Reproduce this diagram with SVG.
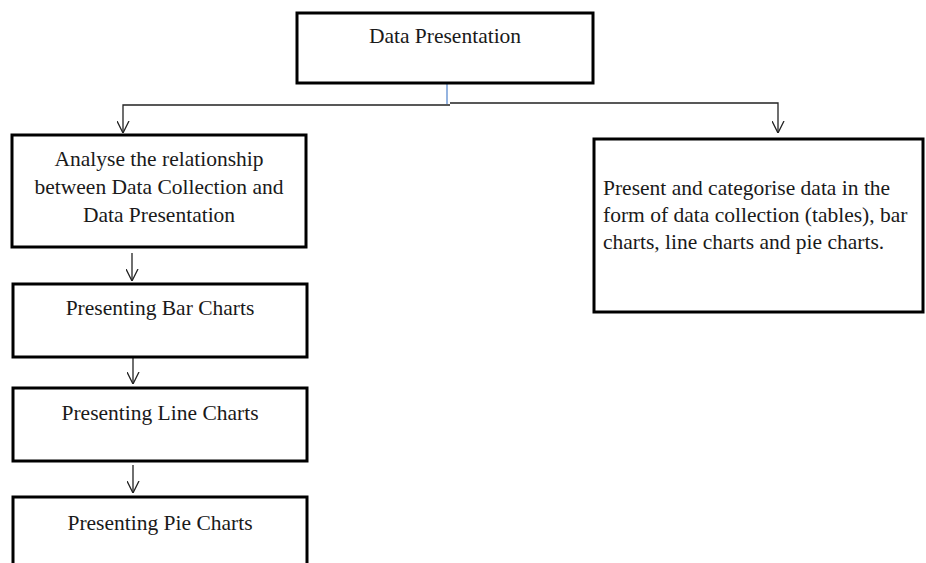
<svg xmlns="http://www.w3.org/2000/svg" width="926" height="563" viewBox="0 0 926 563">
<style>
.box{fill:#fff;stroke:#000;stroke-width:3}
.t{font-family:"Liberation Serif","Times New Roman",serif;font-size:21.5px;fill:#1a1a1a}
.c{text-anchor:middle}
.con{fill:none;stroke:#222;stroke-width:1.3}
</style>
<defs>
<marker id="ah" viewBox="0 0 12 12" refX="12" refY="6" markerWidth="12" markerHeight="13" markerUnits="userSpaceOnUse" orient="auto">
<path d="M0,0 L12,6 L0,12" fill="none" stroke="#222" stroke-width="1.3"/>
</marker>
</defs>
<rect width="926" height="563" fill="#fff"/>
<g id="connectors">
<line x1="447" y1="84" x2="447" y2="104" stroke="#5b8bd0" stroke-width="1.3"/>
<path class="con" d="M450,105 L123,105 L123,133" marker-end="url(#ah)"/>
<path class="con" d="M450,103 L778,103 L778,133" marker-end="url(#ah)"/>
<path class="con" d="M132,253 L132,281" marker-end="url(#ah)"/>
<path class="con" d="M133,358 L133,384" marker-end="url(#ah)"/>
<path class="con" d="M133,465 L133,493" marker-end="url(#ah)"/>
</g>
<g id="n-top">
<rect class="box" x="297" y="13" width="296" height="70"/>
<text class="t c" x="445" y="43">Data Presentation</text>
</g>
<g id="n-analyse">
<rect class="box" x="12" y="135" width="294" height="112"/>
<text class="t c" x="159" y="166">Analyse the relationship</text>
<text class="t c" x="159" y="194">between Data Collection and</text>
<text class="t c" x="159" y="222">Data Presentation</text>
</g>
<g id="n-right">
<rect class="box" x="594" y="139" width="329" height="173"/>
<text class="t" x="603" y="195">Present and categorise data in the</text>
<text class="t" x="603" y="222">form of data collection (tables), bar</text>
<text class="t" x="603" y="249">charts, line charts and pie charts.</text>
</g>
<g id="n-bar">
<rect class="box" x="13" y="284" width="294" height="73"/>
<text class="t c" x="160" y="315">Presenting Bar Charts</text>
</g>
<g id="n-line">
<rect class="box" x="13" y="388" width="294" height="73"/>
<text class="t c" x="160" y="420">Presenting Line Charts</text>
</g>
<g id="n-pie">
<rect class="box" x="13" y="497" width="294" height="80"/>
<text class="t c" x="160" y="530">Presenting Pie Charts</text>
</g>
</svg>
